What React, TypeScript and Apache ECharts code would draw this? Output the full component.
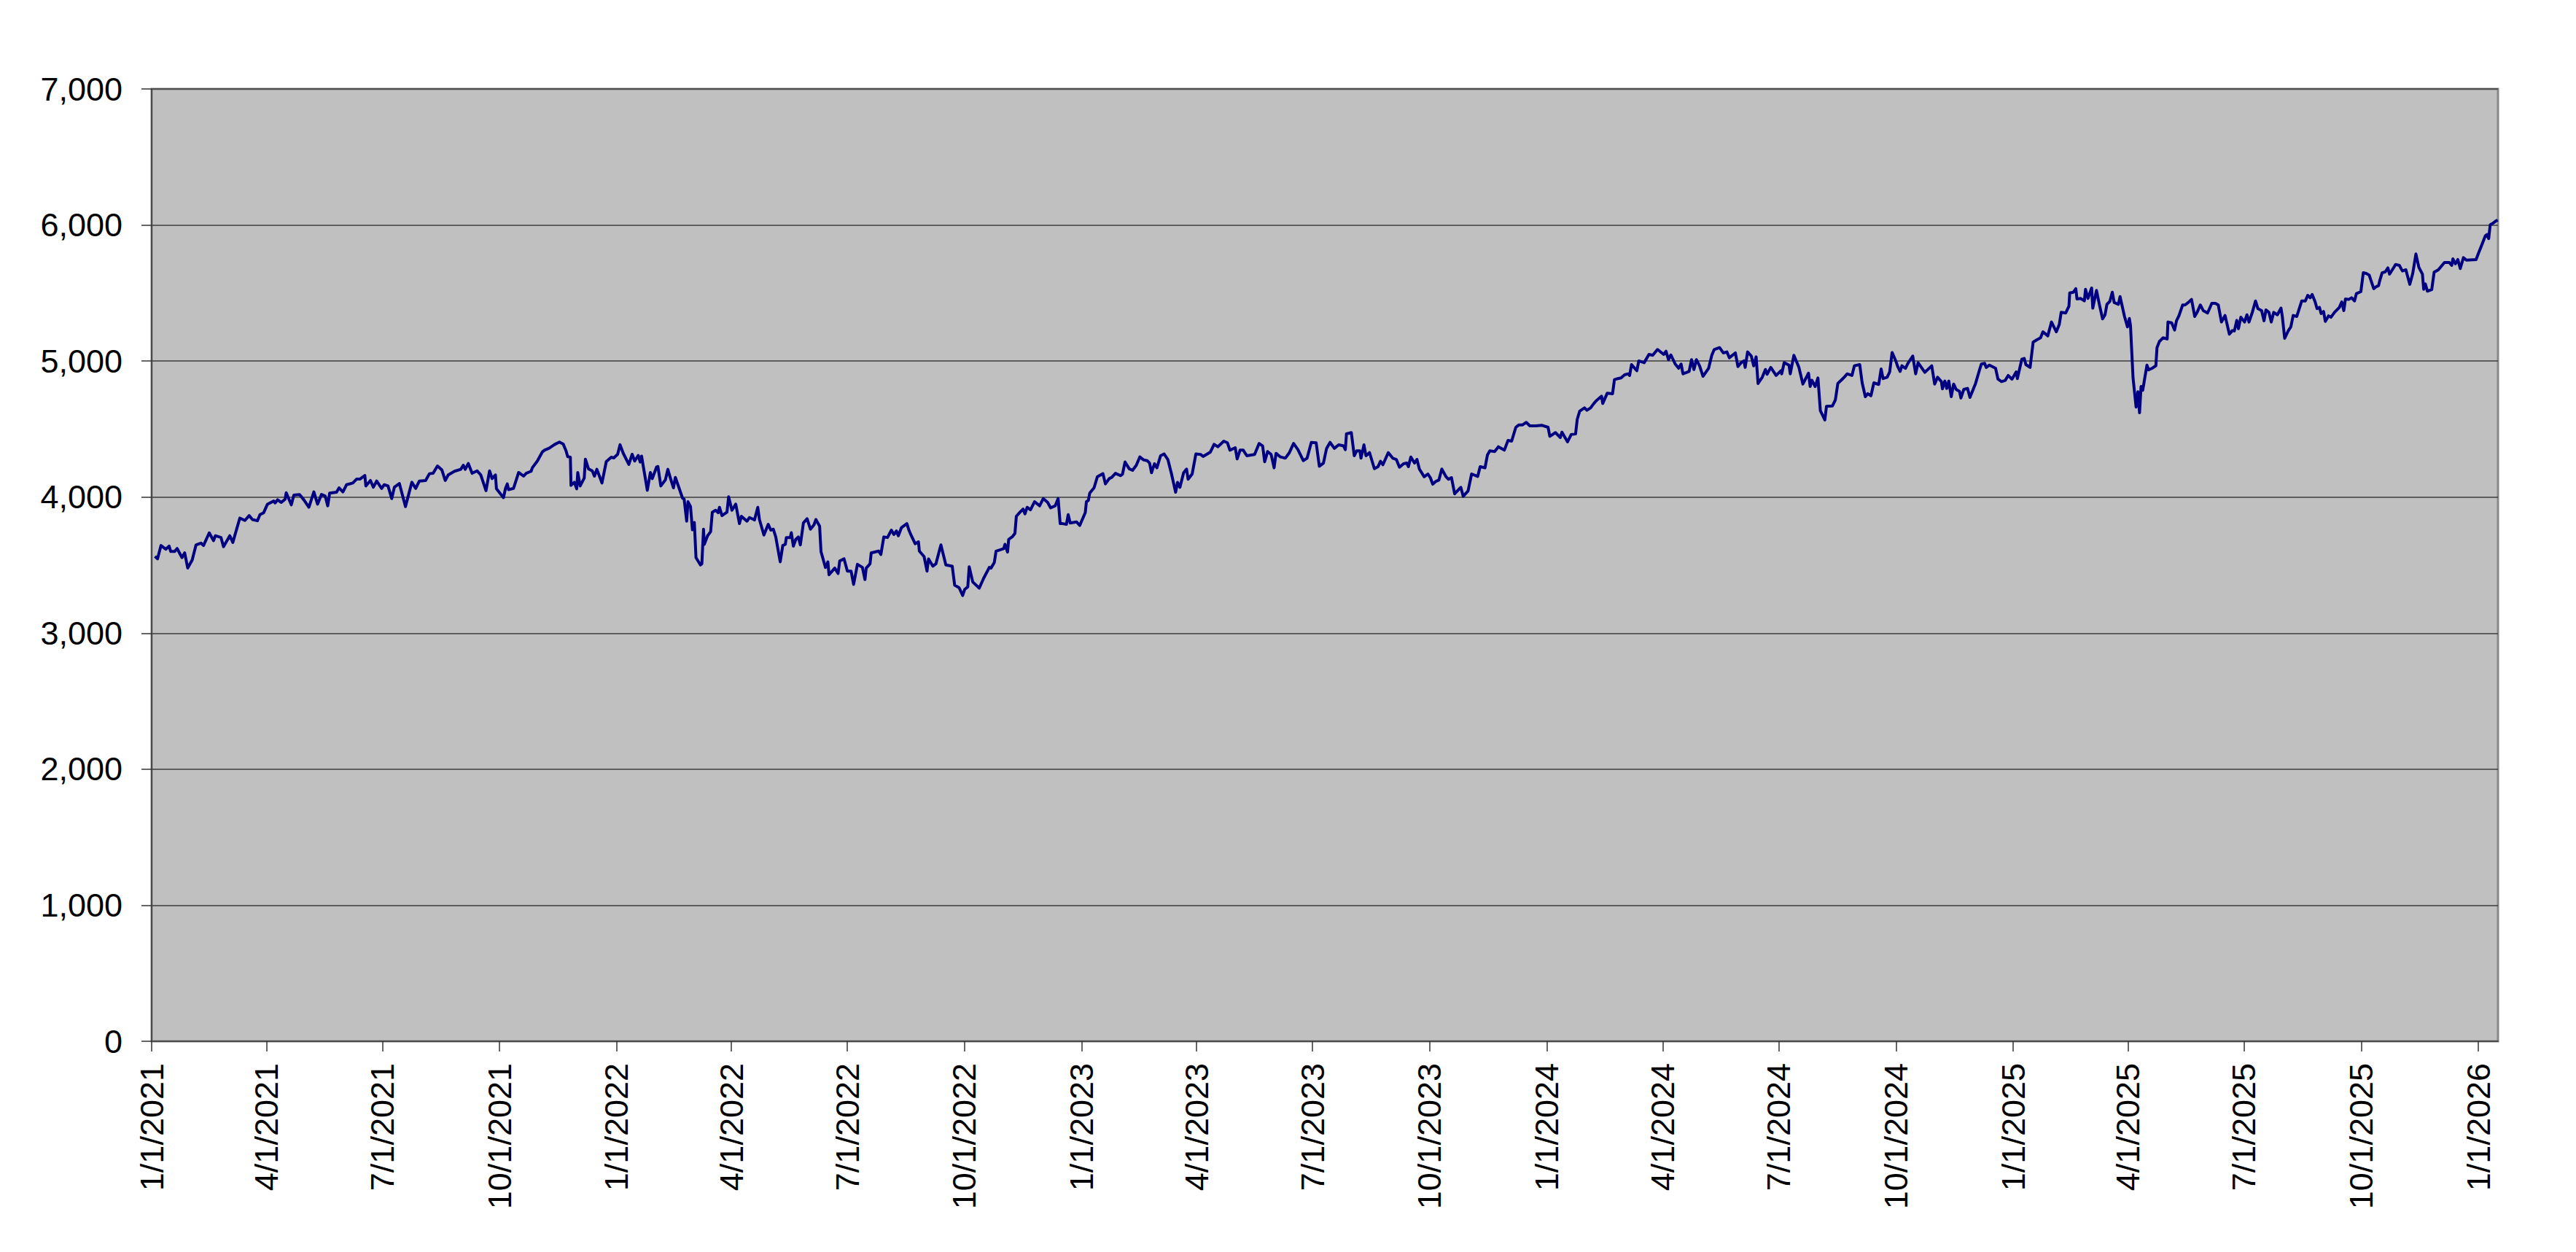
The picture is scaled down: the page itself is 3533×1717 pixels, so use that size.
import React, { useEffect, useRef } from "react";
import * as echarts from "echarts";

// x values are days since 1/1/2021; y values are index levels
const s2021: [number, number][] = [
  [2.6, 3564], [4.6, 3546], [7.3, 3644], [11.1, 3617], [13.7, 3640], [15.0, 3600], [18.0, 3600], [20.0, 3622],
  [23.8, 3555], [25.9, 3590], [28.3, 3479], [31.8, 3537], [34.8, 3648], [38.7, 3662], [40.7, 3644], [45.2, 3737],
  [48.6, 3680], [50.0, 3716], [54.4, 3703], [56.4, 3635], [61.3, 3716], [63.7, 3667], [69.2, 3846], [73.2, 3828],
  [76.5, 3864], [79.1, 3835], [83.0, 3826], [85.0, 3871], [87.9, 3885], [90.9, 3948], [95.8, 3971], [96.9, 3957],
  [98.8, 3980], [101.7, 3961], [104.7, 3984], [105.6, 4032], [109.6, 3943], [111.6, 4014], [116.1, 4018], [119.5, 3979],
  [123.4, 3925], [127.3, 4038], [130.2, 3948], [133.3, 4020], [136.2, 4007], [138.2, 3936], [139.7, 4029], [145.1, 4036],
  [147.1, 4068], [150.1, 4038], [153.0, 4091], [157.9, 4104], [160.8, 4132], [163.4, 4132], [167.3, 4159], [168.1, 4082],
  [171.7, 4122], [174.0, 4073], [176.6, 4118], [180.5, 4064], [182.5, 4091], [185.5, 4082], [188.4, 3989], [190.5, 4073],
  [194.4, 4100], [199.2, 3930], [204.2, 4109], [207.2, 4064], [210.1, 4118], [215.0, 4122], [218.0, 4172], [220.9, 4175],
  [224.3, 4229], [227.8, 4199], [230.4, 4122], [232.8, 4163], [237.7, 4190], [242.6, 4204], [244.6, 4234], [246.1, 4204],
  [248.5, 4247], [251.5, 4175], [255.4, 4193], [258.3, 4163], [262.4, 4047], [265.2, 4193], [267.2, 4136], [269.8, 4163],
  [270.6, 4061], [276.1, 3996], [277.7, 4064], [279.1, 4097], [280.1, 4055], [284.0, 4064], [288.0, 4181], [291.9, 4154],
  [293.9, 4175], [297.8, 4190], [298.8, 4216], [302.7, 4265], [306.7, 4333], [308.3, 4345], [312.0, 4360], [316.0, 4385],
  [320.0, 4405], [323.0, 4390], [325.2, 4340], [326.5, 4297], [328.6, 4293], [329.1, 4086], [331.7, 4109], [333.6, 4061],
  [334.4, 4181], [336.3, 4082], [339.5, 4140], [340.4, 4279], [342.8, 4208], [345.8, 4193], [347.5, 4154], [349.4, 4204],
  [353.4, 4104], [356.8, 4261], [360.7, 4293], [362.7, 4288], [365.7, 4315],
];

const s2022: [number, number][] = [
  [367.6, 4385], [370.0, 4324], [374.5, 4240], [377.1, 4315], [379.1, 4265], [381.9, 4306], [383.4, 4258], [384.5, 4301],
  [389.0, 4050], [391.4, 4181], [392.9, 4136], [396.3, 4222], [397.3, 4225], [399.6, 4082], [403.2, 4127], [405.1, 4204],
  [407.1, 4140], [409.5, 4068], [411.0, 4145], [414.0, 4064], [416.6, 3993], [417.9, 3984], [419.9, 3823], [420.9, 3966],
  [422.9, 3930], [424.4, 3760], [425.9, 3814], [427.2, 3555], [430.7, 3501], [431.8, 3510], [433.1, 3764], [433.7, 3653],
  [436.3, 3716], [438.7, 3746], [440.0, 3889], [442.6, 3903], [444.6, 3885], [445.6, 3925], [447.6, 3864], [451.5, 3889],
  [452.8, 4002], [455.4, 3903], [458.4, 3948], [461.3, 3805], [462.8, 3859], [467.2, 3823], [469.2, 3850], [473.1, 3832],
  [475.7, 3925], [477.0, 3835], [480.5, 3721], [483.9, 3800], [485.9, 3757], [487.9, 3764], [489.8, 3707], [493.3, 3524],
  [495.3, 3644], [497.3, 3653], [498.1, 3703], [501.2, 3703], [502.0, 3739], [503.6, 3639], [505.5, 3689], [507.5, 3707],
  [509.1, 3649], [511.5, 3810], [514.4, 3841], [517.0, 3764], [519.8, 3796], [521.3, 3835], [524.2, 3787], [525.3, 3599],
  [528.8, 3483], [530.7, 3524], [531.6, 3429], [536.1, 3478], [538.7, 3438], [540.0, 3531], [543.4, 3546], [546.0, 3456],
  [548.9, 3456], [550.9, 3358], [553.9, 3506], [557.8, 3483], [559.8, 3394], [560.8, 3478], [563.8, 3510], [564.7, 3590],
  [570.6, 3603], [572.3, 3578], [574.6, 3707], [577.5, 3703], [580.5, 3757], [582.5, 3725], [584.5, 3751], [586.0, 3716],
  [588.4, 3775], [592.7, 3805], [594.3, 3757], [596.2, 3716], [599.2, 3657], [601.8, 3671], [602.5, 3603], [606.2, 3563],
  [608.5, 3456], [609.7, 3546], [613.1, 3492], [615.5, 3510], [619.4, 3649], [623.3, 3501], [628.3, 3492], [630.2, 3352],
  [633.7, 3334], [636.5, 3277], [638.1, 3322], [640.5, 3340], [641.6, 3488], [644.4, 3376], [649.5, 3331], [652.9, 3402],
  [657.4, 3483], [658.7, 3478], [661.3, 3519], [662.7, 3603], [668.7, 3621], [669.7, 3653], [671.7, 3596], [672.6, 3689],
  [675.6, 3710], [677.5, 3733], [678.6, 3859], [681.5, 3889], [683.9, 3912], [685.4, 3877], [687.1, 3925], [689.7, 3907],
  [692.9, 3966], [696.9, 3936], [699.7, 3989], [703.2, 3961], [705.5, 3921], [709.1, 3936], [711.4, 3989], [713.0, 3805],
  [714.9, 3805], [717.9, 3800], [719.3, 3871], [720.9, 3810], [725.8, 3818], [728.4, 3792],
];

const s2023: [number, number][] = [
  [732.7, 3886], [733.6, 3966], [735.1, 3975], [736.2, 4029], [739.6, 4068], [742.2, 4150], [746.6, 4172], [748.5, 4097],
  [751.5, 4136], [753.5, 4145], [756.4, 4175], [760.3, 4158], [761.9, 4168], [763.9, 4258], [767.2, 4208], [769.8, 4197],
  [772.7, 4233], [775.5, 4295], [778.4, 4274], [781.3, 4268], [783.2, 4250], [784.7, 4179], [787.0, 4245], [788.9, 4215],
  [791.8, 4304], [794.6, 4317], [797.5, 4277], [800.4, 4170], [802.3, 4090], [803.6, 4036], [805.1, 4108], [807.0, 4072],
  [809.9, 4179], [812.2, 4206], [813.4, 4131], [816.6, 4170], [819.5, 4317], [823.3, 4313], [825.2, 4299], [830.9, 4331],
  [833.8, 4388], [836.7, 4370], [839.5, 4394], [841.4, 4411], [844.3, 4399], [846.2, 4345], [850.4, 4363], [851.9, 4281],
  [854.2, 4345], [856.7, 4345], [859.5, 4304], [865.6, 4313], [869.1, 4394], [871.9, 4376], [873.5, 4260], [875.8, 4335],
  [878.6, 4313], [880.9, 4215], [882.4, 4322], [885.9, 4295], [889.7, 4286], [892.9, 4327], [896.2, 4394], [899.6, 4349],
  [903.8, 4268], [906.8, 4286], [910.1, 4402], [913.9, 4399], [916.4, 4227], [919.6, 4250], [922.1, 4358], [924.8, 4402],
  [928.2, 4358], [931.6, 4384], [935.4, 4376], [936.8, 4349], [937.7, 4465], [941.5, 4474], [943.8, 4304], [945.7, 4340],
  [948.2, 4340], [949.1, 4286], [951.4, 4384], [953.0, 4304], [955.8, 4327], [959.6, 4209], [962.5, 4224], [964.4, 4263],
  [966.3, 4238], [970.5, 4327], [974.0, 4286], [976.8, 4277], [979.3, 4220], [982.5, 4245], [985.0, 4250], [986.3, 4224],
  [988.2, 4295], [991.1, 4250], [993.0, 4277], [994.9, 4206], [998.7, 4149], [1001.6, 4170], [1003.5, 4143], [1005.4, 4095],
  [1007.9, 4116], [1010.2, 4125], [1012.5, 4206], [1015.9, 4149], [1017.8, 4131], [1020.1, 4143], [1022.6, 4024], [1027.4, 4072],
  [1029.3, 4006], [1033.1, 4045], [1035.9, 4170], [1040.7, 4152], [1042.6, 4224], [1046.4, 4215], [1048.3, 4309], [1050.2, 4340],
  [1054.0, 4335], [1056.9, 4370], [1061.6, 4345], [1064.5, 4417], [1067.3, 4411], [1070.6, 4513], [1073.1, 4531], [1075.9, 4531],
  [1078.8, 4549], [1081.6, 4524], [1086.4, 4524], [1090.8, 4528],
];

const s2024: [number, number][] = [
  [1095.9, 4513], [1097.3, 4447], [1101.7, 4474], [1105.5, 4438], [1106.8, 4477], [1111.2, 4406], [1114.1, 4460], [1117.5, 4465],
  [1118.8, 4572], [1120.7, 4631], [1124.5, 4656], [1126.4, 4638], [1129.3, 4656], [1131.6, 4685], [1133.5, 4706], [1137.9, 4742],
  [1138.8, 4688], [1142.3, 4763], [1146.5, 4760], [1148.0, 4863], [1150.7, 4871], [1153.2, 4876], [1156.0, 4899], [1158.9, 4906],
  [1159.9, 4894], [1161.4, 4974], [1165.6, 4929], [1167.1, 5001], [1171.3, 4988], [1175.1, 5049], [1178.0, 5042], [1181.8, 5085],
  [1186.6, 5049], [1188.5, 5072], [1190.4, 5010], [1192.3, 5045], [1195.7, 4978], [1198.4, 4947], [1200.3, 4978], [1201.8, 4906],
  [1206.6, 4924], [1208.5, 5010], [1210.4, 4938], [1212.3, 5010], [1214.8, 4965], [1217.5, 4888], [1221.9, 4947], [1224.4, 5042],
  [1226.3, 5085], [1230.5, 5099], [1233.4, 5060], [1236.3, 5067], [1238.2, 5024], [1242.9, 5060], [1244.9, 4960], [1247.4, 4988],
  [1249.6, 5001], [1250.6, 4953], [1252.5, 5067], [1255.4, 5037], [1257.3, 4965], [1259.2, 5031], [1260.7, 4835], [1264.0, 4881],
  [1266.5, 4938], [1267.8, 4903], [1270.7, 4953], [1274.9, 4894], [1278.7, 4929], [1279.3, 4906], [1281.2, 4988], [1285.0, 4970],
  [1286.0, 4906], [1288.8, 5042], [1292.7, 4956], [1295.9, 4831], [1300.3, 4911], [1301.6, 4813], [1303.0, 4858], [1305.5, 4813],
  [1307.7, 4876], [1309.6, 4635], [1313.1, 4567], [1314.4, 4667], [1319.1, 4670], [1321.4, 4715], [1323.3, 4835], [1326.8, 4867],
  [1328.7, 4885], [1330.6, 4906], [1334.4, 4894], [1336.3, 4965], [1340.5, 4974], [1342.4, 4840], [1344.9, 4738], [1346.8, 4760],
  [1349.3, 4745], [1351.6, 4840], [1355.4, 4828], [1357.3, 4942], [1358.8, 4871], [1362.0, 4881], [1364.0, 4920], [1365.9, 5063],
  [1368.8, 5001], [1370.3, 4960], [1372.2, 4924], [1373.6, 4965], [1376.4, 4947], [1378.3, 4983], [1382.1, 5037], [1384.4, 4906],
  [1386.3, 4988], [1391.6, 4917], [1397.0, 4965], [1399.3, 4831], [1401.6, 4881], [1404.6, 4849], [1405.4, 4796], [1407.3, 4853],
  [1408.8, 4799], [1410.4, 4853], [1412.3, 4738], [1414.2, 4831], [1416.1, 4792], [1418.8, 4777], [1419.9, 4728], [1422.2, 4792],
  [1425.1, 4799], [1427.0, 4733], [1431.4, 4835], [1434.6, 4938], [1436.0, 4978], [1438.5, 4983], [1439.8, 4953], [1442.3, 4970],
  [1447.1, 4947], [1449.0, 4867], [1451.8, 4849], [1454.7, 4858], [1457.0, 4894], [1460.0, 4867],
];

const s2025: [number, number][] = [
  [1463.3, 4920], [1464.2, 4871], [1467.7, 5013], [1469.6, 5019], [1470.9, 4974], [1474.2, 4953], [1476.6, 5139], [1479.5, 5156],
  [1482.4, 5171], [1484.3, 5215], [1488.1, 5185], [1491.0, 5287], [1494.8, 5215], [1497.1, 5269], [1498.6, 5358], [1502.1, 5353],
  [1504.7, 5403], [1505.3, 5501], [1508.2, 5506], [1510.1, 5532], [1511.0, 5456], [1513.9, 5460], [1516.8, 5442], [1517.7, 5528],
  [1519.6, 5460], [1522.5, 5537], [1523.4, 5389], [1526.3, 5519], [1528.8, 5406], [1531.1, 5310], [1533.0, 5340], [1534.5, 5417],
  [1536.8, 5439], [1538.7, 5506], [1540.2, 5430], [1543.5, 5417], [1544.8, 5474], [1548.3, 5328], [1550.6, 5251], [1552.1, 5313],
  [1553.0, 5260], [1555.0, 4876], [1557.4, 4662], [1558.8, 4774], [1560.1, 4620], [1561.3, 4813], [1562.6, 4786], [1565.9, 4970],
  [1567.2, 4935], [1570.0, 4947], [1572.9, 4965], [1573.8, 5099], [1575.7, 5144], [1578.6, 5171], [1581.8, 5162], [1582.4, 5287],
  [1585.3, 5281], [1587.6, 5228], [1589.1, 5296], [1591.0, 5332], [1593.9, 5412], [1595.8, 5412], [1598.3, 5430], [1600.9, 5453],
  [1603.4, 5328], [1605.3, 5358], [1607.8, 5412], [1610.1, 5371], [1613.5, 5353], [1616.8, 5424], [1619.6, 5424], [1621.9, 5412],
  [1624.4, 5287], [1627.2, 5335], [1630.6, 5198], [1632.9, 5224], [1634.5, 5221], [1636.4, 5299], [1637.7, 5238], [1639.6, 5322],
  [1642.5, 5287], [1644.4, 5340], [1646.0, 5287], [1648.6, 5358], [1651.1, 5442], [1653.0, 5385], [1655.9, 5371], [1657.8, 5296],
  [1659.3, 5376], [1661.6, 5358], [1663.5, 5287], [1665.4, 5358], [1668.3, 5340], [1671.1, 5389], [1672.1, 5332], [1674.0, 5167],
  [1676.9, 5224], [1678.8, 5251], [1680.7, 5335], [1683.5, 5328], [1687.4, 5442], [1690.2, 5442], [1692.1, 5483], [1694.0, 5465],
  [1695.6, 5489], [1697.9, 5435], [1699.4, 5385], [1701.3, 5394], [1702.6, 5349], [1704.5, 5364], [1705.9, 5292], [1708.4, 5332],
  [1710.3, 5322], [1713.1, 5358], [1716.9, 5394], [1718.8, 5435], [1720.4, 5371], [1721.7, 5456], [1724.2, 5453], [1726.5, 5465],
  [1728.8, 5442], [1730.3, 5496], [1733.8, 5510], [1735.7, 5649], [1738.0, 5644], [1740.3, 5632], [1743.9, 5532], [1745.8, 5546],
  [1747.7, 5555], [1748.6, 5591], [1750.5, 5649], [1753.0, 5656], [1755.0, 5685], [1756.3, 5639], [1758.2, 5667], [1761.1, 5710],
  [1764.0, 5703], [1766.4, 5662], [1769.1, 5671], [1772.2, 5564], [1774.5, 5644], [1777.0, 5787], [1779.3, 5689], [1782.1, 5639],
  [1783.1, 5528], [1784.4, 5567], [1786.0, 5514], [1789.4, 5525], [1791.3, 5653], [1794.6, 5671], [1799.4, 5724], [1803.2, 5724],
  [1805.1, 5703], [1806.0, 5751], [1808.0, 5715], [1809.9, 5746], [1811.8, 5680], [1814.3, 5760], [1816.6, 5742], [1824.2, 5746],
];

const s2026: [number, number][] = [
  [1826.1, 5793], [1828.4, 5846], [1831.5, 5921], [1832.8, 5930], [1834.1, 5900], [1835.3, 6002], [1837.6, 6014], [1839.5, 6028],
  [1841.2, 6037],
];

const quarterLabels = [
  "1/1/2021", "4/1/2021", "7/1/2021", "10/1/2021",
  "1/1/2022", "4/1/2022", "7/1/2022", "10/1/2022",
  "1/1/2023", "4/1/2023", "7/1/2023", "10/1/2023",
  "1/1/2024", "4/1/2024", "7/1/2024", "10/1/2024",
  "1/1/2025", "4/1/2025", "7/1/2025", "10/1/2025",
  "1/1/2026",
];

const yTicks = [0, 1000, 2000, 3000, 4000, 5000, 6000, 7000];

const X_MAX_DAY = 1841.4;
const DAY_MS = 86400000;
const START_MS = Date.UTC(2021, 0, 1);

function labelToDay(label: string): number {
  const [m, d, y] = label.split("/").map(Number);
  return Math.round((Date.UTC(y, m - 1, d) - START_MS) / DAY_MS);
}

function dayToLabel(day: number): string {
  const dt = new Date(START_MS + Math.round(day) * DAY_MS);
  return `${dt.getUTCMonth() + 1}/${dt.getUTCDate()}/${dt.getUTCFullYear()}`;
}

const FONT = "'Liberation Sans', Arial, Helvetica, sans-serif";

export default function App() {
  const ref = useRef<HTMLDivElement>(null);

  useEffect(() => {
    if (!ref.current) return;
    const chart = echarts.init(ref.current, undefined, { renderer: "svg" });
    const series = [...s2021, ...s2022, ...s2023, ...s2024, ...s2025, ...s2026];
    const tickDays = quarterLabels.map(labelToDay);

    chart.setOption({
      animation: false,
      backgroundColor: "#ffffff",
      grid: {
        left: 208,
        top: 122,
        right: 3533 - 3426,
        bottom: 1717 - 1428,
        show: true,
        backgroundColor: "#C0C0C0",
        borderColor: "#878787",
        borderWidth: 3,
        containLabel: false,
      },
      xAxis: {
        type: "value",
        min: 0,
        max: X_MAX_DAY,
        splitLine: { show: false },
        axisLine: { show: true, onZero: false, lineStyle: { color: "#4a4a4a", width: 2 } },
        axisTick: {
          show: true,
          inside: false,
          length: 14,
          customValues: tickDays,
          lineStyle: { color: "#333333", width: 1.5 },
        },
        axisLabel: {
          show: true,
          rotate: 90,
          margin: 30,
          customValues: tickDays,
          formatter: (v: number) => dayToLabel(v),
          fontSize: 45,
          fontFamily: FONT,
          color: "#000000",
        },
      },
      yAxis: {
        type: "value",
        min: 0,
        max: 7000,
        interval: 1000,
        axisLine: { show: true, lineStyle: { color: "#4a4a4a", width: 2 } },
        axisTick: { show: true, inside: false, length: 14, lineStyle: { color: "#333333", width: 1.5 } },
        splitLine: { show: true, lineStyle: { color: "#3c3c3c", width: 1.5 } },
        axisLabel: {
          margin: 40,
          fontSize: 45,
          fontFamily: FONT,
          color: "#000000",
          customValues: yTicks,
          formatter: (v: number) => v.toLocaleString("en-US"),
        },
      },
      series: [
        {
          type: "line",
          data: series,
          showSymbol: false,
          symbol: "none",
          lineStyle: { color: "#000080", width: 4, join: "round" },
          itemStyle: { color: "#000080" },
          z: 5,
        },
      ],
    });

    return () => chart.dispose();
  }, []);

  return (
    <div
      ref={ref}
      style={{ position: "absolute", left: 0, top: 0, width: 3533, height: 1717 }}
    />
  );
}
